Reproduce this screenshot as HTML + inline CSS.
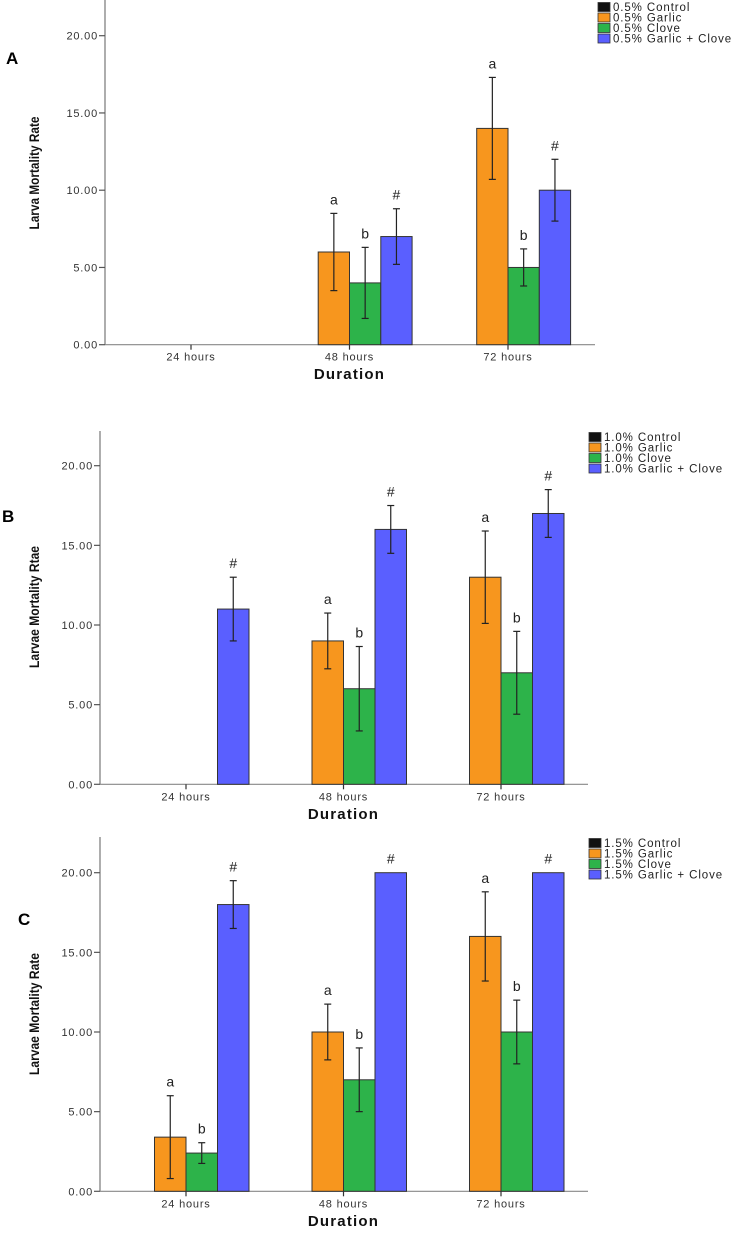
<!DOCTYPE html>
<html><head><meta charset="utf-8"><style>
html,body{margin:0;padding:0;background:#fff;}
svg{display:block;}
.tk{font-family:"Liberation Sans",sans-serif;font-size:11px;fill:#333;letter-spacing:0.8px;}
.lg{font-family:"Liberation Sans",sans-serif;font-size:11.5px;fill:#222;letter-spacing:0.9px;}
.sig{font-family:"Liberation Sans",sans-serif;font-size:14px;fill:#222;}
.xt{font-family:"Liberation Sans",sans-serif;font-size:15px;font-weight:bold;fill:#111;letter-spacing:1.2px;}
.yt{font-family:"Liberation Sans Narrow","Liberation Sans",sans-serif;font-size:14px;font-weight:bold;fill:#111;}
.pl{font-family:"Liberation Sans",sans-serif;font-size:17px;font-weight:bold;fill:#000;}
</style></head><body>
<svg id="chart" width="732" height="1240" viewBox="0 0 732 1240" xmlns="http://www.w3.org/2000/svg"></svg>
<script>
const categories = ["24 hours","48 hours","72 hours"];
const yTicks = [0,5,10,15,20];
const yTickLabels = ["0.00","5.00","10.00","15.00","20.00"];
const seriesNames = ["Control","Garlic","Clove","Garlic + Clove"];
const sigLabels = ["", "a", "b", "#"];
// Panel A (0.5%)
const aMeans = [[0,0,0,0],[0,6,4,7],[0,14,5,10]];
const aLow = [[0,0,0,0],[0,3.5,1.7,5.2],[0,10.7,3.8,8.0]];
const aHigh = [[0,0,0,0],[0,8.5,6.3,8.8],[0,17.3,6.2,12.0]];
// Panel B (1.0%)
const bMeans = [[0,0,0,11],[0,9,6,16],[0,13,7,17]];
const bLow = [[0,0,0,9.0],[0,7.25,3.35,14.5],[0,10.1,4.4,15.5]];
const bHigh = [[0,0,0,13.0],[0,10.75,8.65,17.5],[0,15.9,9.6,18.5]];
// Panel C (1.5%)
const cMeans = [[0,3.4,2.4,18],[0,10,7,20],[0,16,10,20]];
const cLow = [[0,0.8,1.75,16.5],[0,8.25,5.0,20],[0,13.2,8.0,20]];
const cHigh = [[0,6.0,3.05,19.5],[0,11.75,9.0,20],[0,18.8,12.0,20]];

const colors = ["#111","#F7961E","#2DB34A","#5A5FFF"];
const NS = "http://www.w3.org/2000/svg";
const svg = document.getElementById("chart");
function mk(tag, attrs, parent, text){
  const e = document.createElementNS(NS, tag);
  for (const k in attrs) e.setAttribute(k, attrs[k]);
  if (text !== undefined) e.textContent = text;
  (parent||svg).appendChild(e);
  return e;
}
const panels = [
  {key:"a", means:aMeans, low:aLow, high:aHigh, pct:"0.5%", ax:105, top:0, y0:344.7, y20:35.7, right:595, cx0:191, dx:158.5, bw:31.3,
   legX:598, legY:7, letter:"A", lx:6, ly:64, ytitle:"Larva Mortality Rate", ytl:113, ytx:39, yty:173, xtY:379},
  {key:"b", means:bMeans, low:bLow, high:bHigh, pct:"1.0%", ax:100, top:431, y0:784.3, y20:465.7, right:588, cx0:186, dx:157.5, bw:31.5,
   legX:589, legY:437, letter:"B", lx:2, ly:522, ytitle:"Larvae Mortality Rtae", ytl:122, ytx:39, yty:607, xtY:819},
  {key:"c", means:cMeans, low:cLow, high:cHigh, pct:"1.5%", ax:100, top:837, y0:1191.3, y20:872.7, right:588, cx0:186, dx:157.5, bw:31.5,
   legX:589, legY:843, letter:"C", lx:18, ly:925, ytitle:"Larvae Mortality Rate", ytl:122, ytx:39, yty:1014, xtY:1226}
];
panels.forEach(p=>{
  const g = mk("g",{});
  
  
  const yS = v => p.y0 - (p.y0 - p.y20) * v / 20;
  const xS = i => p.cx0 + p.dx * i;
  const ya = mk("line",{x1:p.ax,y1:p.top,x2:p.ax,y2:p.y0,stroke:"#777","stroke-width":1.2},g);
  
  
  yTicks.forEach((t,i)=>{
    mk("line",{x1:p.ax-6,y1:yS(t),x2:p.ax,y2:yS(t),stroke:"#555","stroke-width":1.2},g);
    const tl = mk("text",{x:p.ax-7,y:yS(t)+4,"text-anchor":"end",class:"tk"},g,yTickLabels[i]);
    
    
  });
  const xa = mk("line",{x1:p.ax,y1:p.y0,x2:p.right,y2:p.y0,stroke:"#888","stroke-width":1.2},g);
  
  
  categories.forEach((c,ci)=>{
    const cx = xS(ci);
    p.means[ci].forEach((v,si)=>{
      const x = cx + (si-2)*p.bw;
      if (v > 0){
        const r = mk("rect",{x:x,y:yS(v),width:p.bw,height:p.y0-yS(v),fill:colors[si],stroke:"#333","stroke-width":1},g);
        
        
      }
      if (si>0 && v>0){
        const lo = p.low[ci][si], hi = p.high[ci][si];
        const ex = x + p.bw/2;
        if (hi > lo){
          const eb = mk("g",{stroke:"#222","stroke-width":1.2},g);
          
          
          mk("line",{x1:ex,y1:yS(hi),x2:ex,y2:yS(lo)},eb);
          mk("line",{x1:ex-3.5,y1:yS(hi),x2:ex+3.5,y2:yS(hi)},eb);
          mk("line",{x1:ex-3.5,y1:yS(lo),x2:ex+3.5,y2:yS(lo)},eb);
        }
        const sl = mk("text",{x:ex,y:yS(Math.max(hi,v))-9,"text-anchor":"middle",class:"sig"},g,sigLabels[si]);
        
        
      }
    });
    mk("line",{x1:cx,y1:p.y0,x2:cx,y2:p.y0+5,stroke:"#333","stroke-width":1.2},g);
    const xl = mk("text",{x:cx,y:p.y0+16,"text-anchor":"middle",class:"tk"},g,c);
    
    
  });
  const xt = mk("text",{x:xS(1),y:p.xtY,"text-anchor":"middle",class:"xt"},g,"Duration");
  
  
  const yt = mk("text",{x:p.ytx,y:p.yty,"text-anchor":"middle",class:"yt",textLength:p.ytl,lengthAdjust:"spacingAndGlyphs",transform:"rotate(-90 "+p.ytx+" "+p.yty+")"},g,p.ytitle);
  
  
  const pl = mk("text",{x:p.lx,y:p.ly,class:"pl"},g,p.letter);
  
  
  seriesNames.forEach((s,si)=>{
    const ly = p.legY + si*10.5;
    const le = mk("g",{},g);
    
    
    mk("rect",{x:p.legX,y:ly-4.5,width:12,height:9,fill:colors[si],stroke:"#333","stroke-width":0.8},le);
    mk("text",{x:p.legX+15,y:ly+4,class:"lg"},le,p.pct+" "+s);
  });
});
</script>
</body></html>
